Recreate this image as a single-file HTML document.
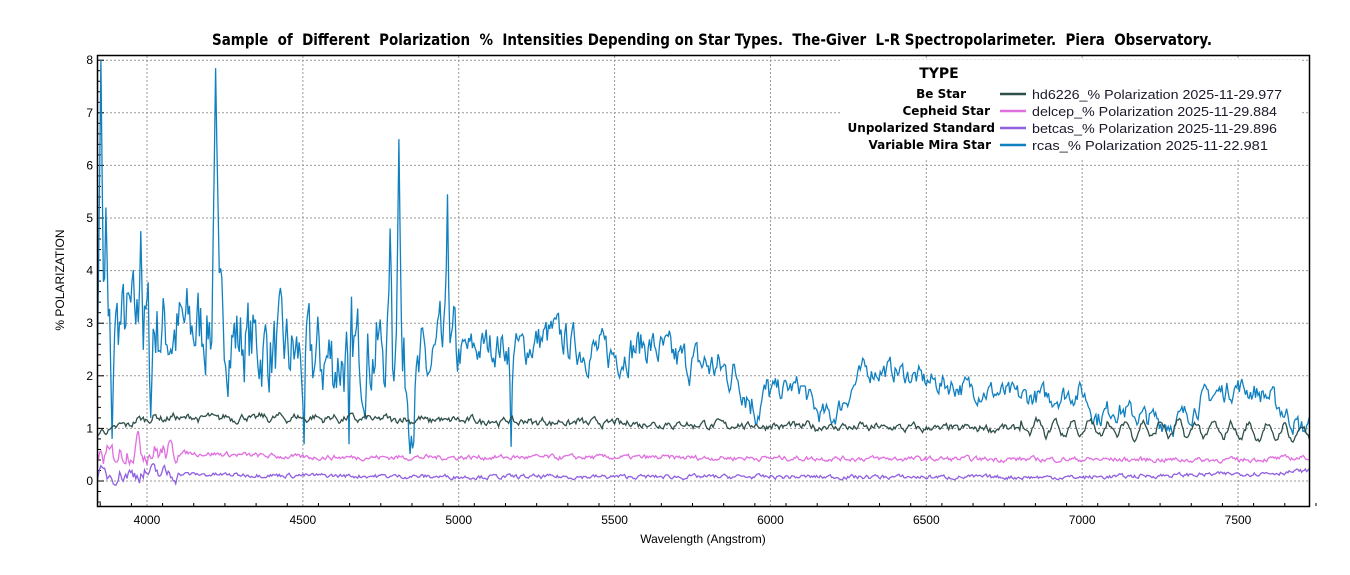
<!DOCTYPE html>
<html><head><meta charset="utf-8">
<style>
body{margin:0;background:#fff;width:1350px;height:570px;overflow:hidden}
svg{font-family:"Liberation Sans",sans-serif}
</style></head>
<body>
<svg id="s" width="1350" height="570" xmlns="http://www.w3.org/2000/svg">
<defs><clipPath id="cp"><rect x="98" y="56" width="1211" height="450"/></clipPath></defs>
<rect width="1350" height="570" fill="#fff"/>
<text x="712" y="45" text-anchor="middle" font-size="16" font-weight="bold" font-family="'DejaVu Sans',sans-serif" textLength="1000" lengthAdjust="spacingAndGlyphs" style="white-space:pre" xml:space="preserve">Sample  of  Different  Polarization  %  Intensities Depending on Star Types.  The-Giver  L-R Spectropolarimeter.  Piera  Observatory.</text>
<g id="grid" stroke="#999" stroke-dasharray="2,2" stroke-width="1"></g>
<g id="ticks" stroke="#000" stroke-width="1"></g>
<g id="lbl" font-size="12" fill="#000"></g>
<g id="series" fill="none" stroke-width="1.3" clip-path="url(#cp)"></g>
<rect x="97.5" y="55.5" width="1212" height="451" fill="none" stroke="#000" stroke-width="1.5"/>
<text x="64" y="280" font-size="12" text-anchor="middle" transform="rotate(-90 64 280)">% POLARIZATION</text>
<text x="703" y="543" font-size="12" text-anchor="middle">Wavelength (Angstrom)</text>
<rect x="842" y="60" width="460" height="98" fill="#fff"/>
<g font-family="'DejaVu Sans',sans-serif" font-weight="bold" font-size="12" text-anchor="end">
<text x="939" y="78" text-anchor="middle" font-size="14">TYPE</text>
<text x="966" y="98">Be Star</text>
<text x="990" y="115">Cepheid Star</text>
<text x="995" y="132">Unpolarized Standard</text>
<text x="991" y="149">Variable Mira Star</text>
</g>
<g stroke-width="2.5">
<line x1="1000" y1="94" x2="1026" y2="94" stroke="#2f4f4a"/>
<line x1="1000" y1="111" x2="1026" y2="111" stroke="#e070e0"/>
<line x1="1000" y1="128" x2="1026" y2="128" stroke="#9060e0"/>
<line x1="1000" y1="145" x2="1026" y2="145" stroke="#1080c0"/>
</g>
<g font-size="13" fill="#1a1a2a" style="white-space:pre" xml:space="preserve">
<text x="1032" y="99" textLength="250" lengthAdjust="spacingAndGlyphs">hd6226_% Polarization  2025-11-29.977</text>
<text x="1032" y="116" textLength="245" lengthAdjust="spacingAndGlyphs">delcep_% Polarization  2025-11-29.884</text>
<text x="1032" y="133" textLength="245" lengthAdjust="spacingAndGlyphs">betcas_% Polarization  2025-11-29.896</text>
<text x="1032" y="150" textLength="236" lengthAdjust="spacingAndGlyphs">rcas_% Polarization  2025-11-22.981</text>
</g>
</svg>
<script>
const NS="http://www.w3.org/2000/svg";
function el(p,t,a,txt){const e=document.createElementNS(NS,t);for(const k in a)e.setAttribute(k,a[k]);if(txt!=null)e.textContent=txt;document.getElementById(p).appendChild(e);}
const X=w=>147+(w-4000)*0.31172, Y=v=>481-v*52.6;
for(let w=4000;w<=7500;w+=500){el("grid","line",{x1:X(w),y1:56,x2:X(w),y2:506});el("lbl","text",{x:X(w),y:524,"text-anchor":"middle"},w);}
for(let w=3850;w<=7750;w+=100)el("ticks","line",{x1:X(w),y1:506,x2:X(w),y2:w%500==0?500:503});
for(let v=0;v<=8;v++){el("grid","line",{x1:98,y1:Y(v),x2:1309,y2:Y(v)});el("lbl","text",{x:93,y:Y(v)+4,"text-anchor":"end"},v);}
for(let v=-0.4;v<=8.1;v+=0.2)el("ticks","line",{x1:98,y1:Y(v),x2:Math.abs(v-Math.round(v))<0.01?104:101,y2:Y(v)});
let seed=7;const R=()=>{seed=(seed*16807)%2147483647;return seed/2147483647;};
function interp(k,w){for(let i=0;i<k.length-1;i++)if(w<=k[i+1][0]){const t=(w-k[i][0])/(k[i+1][0]-k[i][0]);return k[i][1]+t*(k[i+1][1]-k[i][1]);}return k[k.length-1][1];}
function smooth(n,amp){let a=[],v=0;for(let i=0;i<n;i++){v=0.55*v+(R()-0.5);a.push(v*amp);}return a;}
const start=3840,end=7750,dw=4,N=Math.floor((end-start)/dw)+1;
function series(base,ampf,color,spikes,osc){const nz=smooth(N,1);let pts=[];for(let i=0;i<N;i++){const w=start+i*dw;let v=interp(base,w)+nz[i]*ampf(w);if(osc)v+=Math.sin(w/osc[0])*osc[1](w);
let best=null,bd=1;for(const s of spikes){const d=Math.abs(w-s[0])/s[2];if(d<bd){bd=d;best=s;}}
if(best)v+=(best[1]-v)*(1-bd);
pts.push(X(w).toFixed(1)+","+Y(v).toFixed(1));}el("series","polyline",{points:pts.join(" "),stroke:color});}
const rk=[[3840,2.5],[3900,3],[4000,3],[4100,2.8],[4200,3],[4300,2.7],[4400,2.5],[4500,2.3],[4600,2.3],[4700,2.5],[4800,2.5],[4850,1.6],[4900,2.1],[5000,2.4],[5100,2.6],[5200,2.5],[5300,2.8],[5400,2.5],[5500,2.4],[5600,2.6],[5700,2.3],[5800,2.2],[5900,2.0],[5950,1.4],[6000,1.7],[6100,1.8],[6150,1.3],[6200,1.2],[6300,2.1],[6400,2.1],[6500,1.9],[6600,1.8],[6700,1.7],[6800,1.6],[6900,1.6],[7000,1.7],[7050,1.2],[7100,1.4],[7200,1.2],[7300,1.1],[7400,1.6],[7500,1.8],[7600,1.6],[7700,1.0],[7750,1.0]];
series(rk,w=>w<5000?1.4:(w<6000?0.6:0.35),"#1080c0",[[3852,8,10],[3868,5.2,8],[3888,0.8,8],[3980,4.75,8],[4012,1.2,8],[4220,7.85,12],[4808,6.5,10],[4780,4.8,8],[4964,5.45,8],[4504,0.7,6],[4648,0.7,6],[5168,0.65,6]]);
series([[3840,0.9],[3900,1.0],[4000,1.2],[4500,1.2],[5000,1.15],[5500,1.1],[6000,1.05],[6500,1.0],[7000,1.0],[7500,0.95],[7750,0.9]],w=>0.12,"#2f4f4a",[],[9,w=>w>6800?0.15:0.03]);
series([[3840,0.4],[3950,0.6],[4050,0.55],[4500,0.45],[5500,0.45],[6500,0.42],[7500,0.4],[7750,0.45]],w=>w<4100?0.35:0.08,"#e070e0",[[3972,0.95,10]]);
series([[3840,0.1],[4000,0.15],[4200,0.12],[5000,0.08],[6000,0.08],[7000,0.07],[7600,0.15],[7750,0.2]],w=>w<4100?0.25:0.07,"#9060e0",[]);
</script>
</body></html>
